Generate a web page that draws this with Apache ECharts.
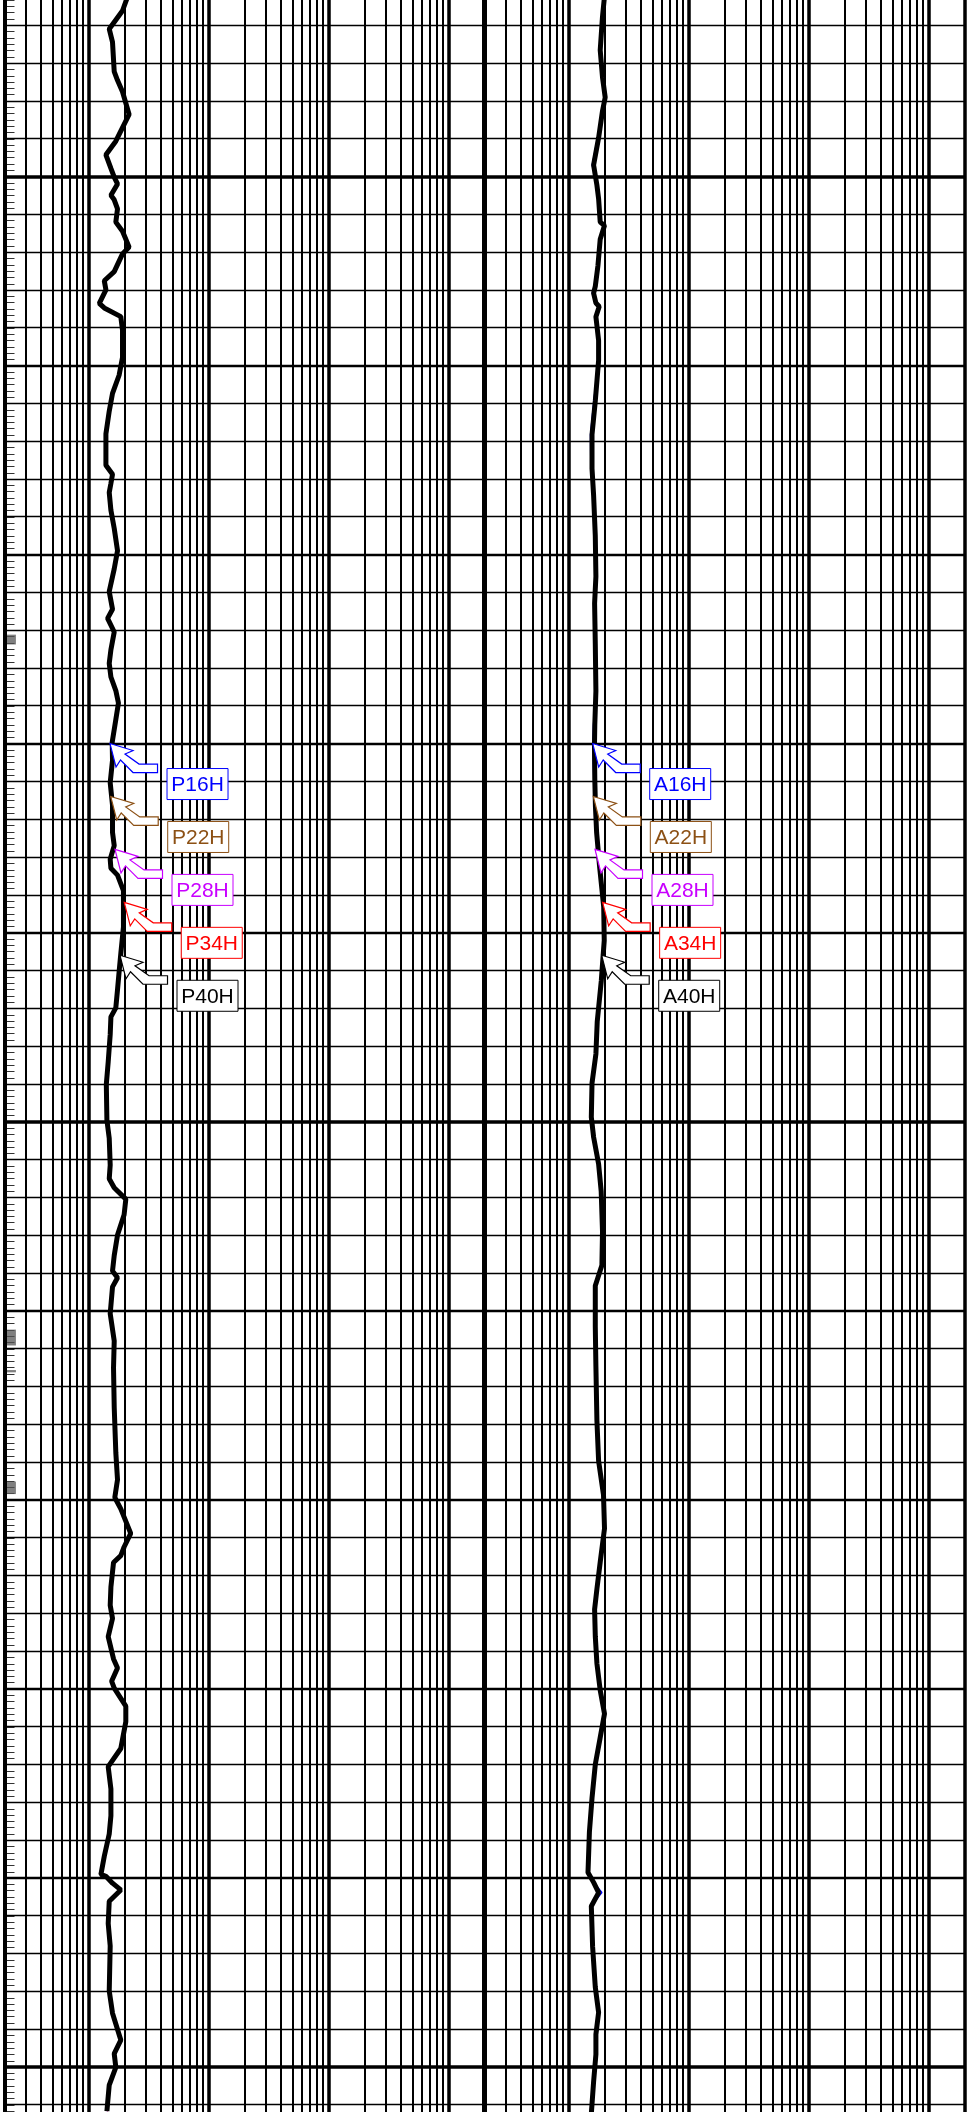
<!DOCTYPE html>
<html>
<head>
<meta charset="utf-8">
<script src="https://cdn.jsdelivr.net/npm/echarts@6/dist/echarts.min.js"></script>
<style>
html, body { margin: 0; padding: 0; background: #fff; }
#chart { width: 979px; height: 2112px; }
</style>
</head>
<body>
<div id="chart"></div>
<script>
// track 1 (P curves): depth / resistivity
var depthP = [
    2245.26, 2245.62, 2246.10, 2246.45, 2247.23, 2247.46, 2247.76, 2248.36, 2248.71, 2249.07,
    2249.43, 2249.79, 2250.02, 2250.20, 2250.50, 2250.62, 2250.86, 2251.21, 2251.45, 2251.87,
    2252.05, 2252.52, 2252.76, 2253.00, 2253.36, 2253.48, 2253.71, 2254.07, 2254.79, 2255.26,
    2255.74, 2256.21, 2256.81, 2257.64, 2257.88, 2258.12, 2258.36, 2258.83, 2259.31, 2259.90,
    2260.38, 2260.98, 2261.45, 2261.69, 2262.05, 2262.52, 2262.88, 2263.24, 2263.60, 2263.93,
    2264.37, 2264.96, 2265.44, 2266.04, 2266.63, 2267.35, 2267.70, 2268.06, 2268.30, 2268.48,
    2268.89, 2269.85, 2270.56, 2271.04, 2271.51, 2271.99, 2272.23, 2272.70, 2273.42, 2274.01,
    2274.96, 2275.44, 2276.15, 2276.51, 2276.75, 2277.05, 2277.46, 2278.00, 2278.54, 2278.95,
    2279.13, 2279.37, 2280.08, 2280.80, 2281.51, 2282.56, 2283.75, 2284.47, 2284.94, 2285.24,
    2285.89, 2286.25, 2286.48, 2286.66, 2287.31, 2287.79, 2288.14, 2288.62, 2289.21, 2289.45,
    2289.80, 2289.98, 2290.46, 2290.87, 2291.58, 2292.06, 2292.65, 2293.36, 2293.84, 2294.43,
    2294.91, 2294.96, 2295.14, 2295.32, 2295.62, 2296.21, 2296.80, 2297.99, 2298.58, 2299.29,
    2299.65, 2300.01, 2300.48, 2301.17
];
var p40 = [
    2.115, 1.925, 1.492, 1.589, 1.642, 1.749, 1.925, 2.185, 1.925, 1.693,
    1.400, 1.541, 1.642, 1.749, 1.541, 1.642, 1.749, 1.693, 1.925, 2.185,
    1.925, 1.642, 1.357, 1.400, 1.233, 1.357, 1.863, 1.925, 1.925, 1.803,
    1.589, 1.492, 1.400, 1.400, 1.589, 1.541, 1.492, 1.541, 1.642, 1.749,
    1.642, 1.492, 1.589, 1.446, 1.642, 1.541, 1.492, 1.541, 1.693, 1.780,
    1.693, 1.580, 1.589, 1.520, 1.589, 1.589, 1.642, 1.520, 1.541, 1.749,
    1.960, 1.960, 1.863, 1.803, 1.749, 1.693, 1.541, 1.520, 1.463, 1.411,
    1.427, 1.492, 1.520, 1.492, 1.642, 2.051, 1.985, 1.749, 1.642, 1.589,
    1.749, 1.589, 1.520, 1.642, 1.620, 1.642, 1.693, 1.749, 1.661, 1.863,
    2.253, 1.985, 1.863, 1.620, 1.541, 1.520, 1.589, 1.463, 1.620, 1.749,
    1.562, 1.642, 2.051, 2.051, 1.863, 1.463, 1.541, 1.541, 1.492, 1.357,
    1.272, 1.400, 1.589, 1.863, 1.492, 1.463, 1.520, 1.492, 1.589, 1.863,
    1.642, 1.693, 1.492, 1.427
];
var p34 = [
    2.140, 1.925, 1.492, 1.600, 1.660, 1.770, 1.950, 2.220, 1.925, 1.693,
    1.400, 1.541, 1.660, 1.770, 1.541, 1.642, 1.770, 1.693, 1.950, 2.210,
    1.925, 1.642, 1.357, 1.400, 1.250, 1.357, 1.890, 1.950, 1.950, 1.803,
    1.589, 1.492, 1.420, 1.400, 1.600, 1.541, 1.492, 1.560, 1.660, 1.770,
    1.642, 1.492, 1.600, 1.446, 1.660, 1.541, 1.492, 1.541, 1.710, 1.780,
    1.693, 1.580, 1.589, 1.520, 1.600, 1.589, 1.642, 1.520, 1.541, 1.770,
    1.990, 1.960, 1.880, 1.803, 1.749, 1.693, 1.541, 1.520, 1.480, 1.411,
    1.427, 1.500, 1.520, 1.492, 1.660, 2.080, 1.985, 1.749, 1.642, 1.589,
    1.770, 1.589, 1.520, 1.660, 1.620, 1.642, 1.710, 1.770, 1.661, 1.890,
    2.290, 1.985, 1.863, 1.620, 1.541, 1.520, 1.600, 1.463, 1.640, 1.770,
    1.562, 1.660, 2.080, 2.070, 1.863, 1.463, 1.541, 1.560, 1.492, 1.357,
    1.272, 1.400, 1.600, 1.890, 1.492, 1.463, 1.530, 1.492, 1.600, 1.890,
    1.642, 1.710, 1.492, 1.440
];

// track 2 (A curves)
var depthA = [
    2245.24, 2245.77, 2246.66, 2247.38, 2247.91, 2248.27, 2248.98, 2249.70, 2250.23, 2250.59,
    2251.21, 2251.30, 2251.66, 2252.37, 2252.91, 2253.09, 2253.35, 2253.44, 2253.71, 2254.34,
    2254.87, 2255.94, 2256.83, 2257.73, 2258.44, 2259.51, 2260.58, 2261.29, 2262.36, 2263.61,
    2264.51, 2265.04, 2265.93, 2266.65, 2267.36, 2268.25, 2269.32, 2270.21, 2271.28, 2272.35,
    2273.21, 2273.98, 2274.88, 2275.41, 2276.12, 2276.84, 2277.91, 2278.80, 2279.34, 2280.41,
    2281.48, 2282.90, 2283.97, 2284.87, 2285.76, 2286.65, 2287.36, 2287.90, 2288.61, 2289.33,
    2290.04, 2290.66, 2291.29, 2292.00, 2292.89, 2293.79, 2294.86, 2295.12, 2295.39, 2295.75,
    2296.82, 2297.89, 2298.56, 2299.14, 2299.67, 2300.39, 2301.24
];
var a40 = [
    2.000, 1.925, 1.842, 1.925, 2.027, 1.925, 1.786, 1.623, 1.729, 1.786,
    1.842, 2.000, 1.842, 1.762, 1.676, 1.623, 1.696, 1.807, 1.696, 1.786,
    1.786, 1.676, 1.574, 1.574, 1.623, 1.676, 1.696, 1.654, 1.676, 1.696,
    1.660, 1.650, 1.660, 1.680, 1.720, 1.820, 1.970, 1.990, 1.880, 1.740,
    1.696, 1.574, 1.553, 1.623, 1.786, 1.877, 1.925, 1.903, 1.676, 1.676,
    1.696, 1.729, 1.786, 1.962, 2.000, 1.842, 1.729, 1.654, 1.676, 1.729,
    1.842, 2.000, 1.842, 1.676, 1.574, 1.497, 1.457, 1.623, 1.786, 1.553,
    1.592, 1.676, 1.786, 1.696, 1.696, 1.623, 1.553
];
var a16 = [
    2.000, 1.925, 1.820, 1.925, 2.027, 1.925, 1.750, 1.580, 1.729, 1.786,
    1.842, 2.000, 1.842, 1.762, 1.640, 1.580, 1.696, 1.807, 1.696, 1.786,
    1.786, 1.630, 1.530, 1.540, 1.623, 1.676, 1.696, 1.654, 1.676, 1.696,
    1.620, 1.600, 1.630, 1.660, 1.700, 1.800, 1.950, 1.990, 1.880, 1.720,
    1.696, 1.574, 1.520, 1.590, 1.786, 1.877, 1.925, 1.903, 1.676, 1.676,
    1.696, 1.729, 1.786, 1.962, 2.000, 1.842, 1.729, 1.640, 1.676, 1.729,
    1.842, 2.000, 1.842, 1.676, 1.550, 1.470, 1.440, 1.623, 1.900, 1.540,
    1.570, 1.676, 1.786, 1.696, 1.696, 1.600, 1.520
];

// annotation arrows: tip depth and value
var labelsP = ['P16H', 'P22H', 'P28H', 'P34H', 'P40H'];
var labelsA = ['A16H', 'A22H', 'A28H', 'A34H', 'A40H'];
var tipDepth = [2265.0, 2266.4, 2267.8, 2269.2, 2270.6];
var tipP = [1.515, 1.535, 1.667, 1.99, 1.835];
var tipA = [1.595, 1.614, 1.667, 1.93, 1.896];
var colors = ['#0000ff', '#8c5014', '#c800ff', '#ff0000', '#000000'];

// dense depth-tick zones on the left edge [top, bottom]
var denseTicks = [[2262.12, 2262.38], [2280.50, 2280.92], [2281.57, 2281.63], [2284.52, 2284.85]];

// log grid
var decadeVals = [1, 10, 100, 1000];
var mantissas = [2, 3, 4, 5, 6, 7, 8, 9];

var X_MIN = 0.2, X_MAX = 2000;
var D_TOP = 2245.335, D_BOTTOM = 2301.193;

function _map(arr, fn) {
    var out = [];
    for (var i = 0; i < arr.length; i++) out.push(fn(arr[i], i));
    return out;
}
function pairs(vals, depths) {
    return _map(depths, function (d, i) { return [vals[i], d]; });
}
function ls(w) {
    return { color: '#000', width: w, type: 'solid', opacity: 1 };
}

function gridLines(idx) {
    var data = [];
    for (var k = 0; k < decadeVals.length; k++) {
        var base = decadeVals[k] / 10;
        for (var m = 0; m < mantissas.length; m++) {
            var v = +(base * mantissas[m]).toPrecision(6);
            if (v > X_MIN && v < X_MAX) data.push({ xAxis: v, lineStyle: ls(2) });
        }
        data.push({ xAxis: decadeVals[k], lineStyle: ls(3.5) });
    }
    // one line per metre, heavier every 5 m and every 25 m
    for (var d = Math.ceil(D_TOP); d <= D_BOTTOM; d++) {
        var w = d % 25 === 0 ? 3.5 : (d % 5 === 0 ? 2.4 : 1.3);
        data.push({ yAxis: d, lineStyle: ls(w) });
    }
    data.push({ xAxis: X_MAX, lineStyle: ls(idx === 0 ? 5 : 3.5) });
    if (idx === 0) data.push({ xAxis: X_MIN, lineStyle: ls(4) });
    var s = {
        type: 'line',
        xAxisIndex: idx,
        yAxisIndex: idx,
        data: [],
        silent: true,
        z: 1,
        markLine: {
            silent: true,
            animation: false,
            symbol: ['none', 'none'],
            label: { show: false },
            emphasis: { disabled: true },
            data: data
        }
    };
    if (idx === 0) {
        s.markArea = {
            silent: true,
            animation: false,
            itemStyle: { color: '#555', opacity: 0.75 },
            label: { show: false },
            emphasis: { disabled: true },
            data: _map(denseTicks, function (z) {
                return [{ xAxis: 0.206, yAxis: z[0] }, { xAxis: 0.249, yAxis: z[1] }];
            })
        };
    }
    return s;
}

function curve(idx, vals, depths, color, width, z) {
    return {
        type: 'line',
        xAxisIndex: idx,
        yAxisIndex: idx,
        data: pairs(vals, depths),
        showSymbol: false,
        symbol: 'none',
        silent: true,
        z: z,
        lineStyle: { color: color, width: width },
        emphasis: { disabled: true }
    };
}

function annotations(idx, tips, labels) {
    return {
        type: 'custom',
        xAxisIndex: idx,
        yAxisIndex: idx,
        clip: false,
        silent: true,
        z: 10,
        data: _map(tipDepth, function (d, i) { return [tips[i], d, i]; }),
        renderItem: function (params, api) {
            var p = api.coord([api.value(0), api.value(1)]);
            var c = colors[api.value(2)];
            var x = p[0], y = p[1];
            var shape = [[0, 0], [23, 7], [15, 10.5], [29, 20.5], [47.5, 20.5],
                         [47.5, 29], [23, 29], [10.5, 16.5], [6, 23.5]];
            var pts = _map(shape, function (s) { return [x + s[0], y + s[1]]; });
            return {
                type: 'group',
                children: [
                    { type: 'polygon', shape: { points: pts },
                      style: { fill: '#fff', stroke: c, lineWidth: 1.2 } },
                    { type: 'rect', shape: { x: x + 57, y: y + 25, width: 61, height: 31 },
                      style: { fill: '#fff', stroke: c, lineWidth: 1 } },
                    { type: 'text',
                      style: { x: x + 87.5, y: y + 42, text: labels[params.dataIndex], fill: c,
                               font: '21px "Liberation Sans", Arial, sans-serif',
                               align: 'center', verticalAlign: 'middle' } }
                ]
            };
        }
    };
}

var chart = echarts.init(document.getElementById('chart'), null, { renderer: 'canvas' });

function yAxisOf(idx) {
    return {
        type: 'value',
        gridIndex: idx,
        inverse: true,
        min: D_TOP,
        max: D_BOTTOM,
        axisLabel: { show: false },
        splitLine: { show: false },
        axisLine: { show: false },
        axisTick: { show: false }
    };
}
// depth tick strip on the left edge of track 1
var tickAxis = {
    type: 'value',
    gridIndex: 0,
    inverse: true,
    min: D_TOP,
    max: D_BOTTOM,
    interval: 1,
    position: 'left',
    axisLabel: { show: false },
    splitLine: { show: false },
    axisLine: { show: false },
    axisTick: { show: true, inside: true, length: 10, lineStyle: { color: '#333', width: 1 } },
    minorTick: { show: true, splitNumber: 6, length: 10, lineStyle: { color: '#333', width: 1 } }
};
function xAxisOf(idx) {
    return {
        type: 'log',
        logBase: 10,
        gridIndex: idx,
        min: X_MIN,
        max: X_MAX,
        show: false
    };
}

chart.setOption({
    animation: false,
    backgroundColor: '#fff',
    grid: [
        { left: 4.5, top: 0, width: 480, height: 2112 },
        { left: 484.5, top: 0, width: 480, height: 2112 }
    ],
    xAxis: [xAxisOf(0), xAxisOf(1)],
    yAxis: [yAxisOf(0), yAxisOf(1), tickAxis],
    series: [
        gridLines(0),
        gridLines(1),
        curve(0, p40, depthP, colors[0], 1.5, 3),
        curve(0, p40, depthP, colors[1], 1.5, 3),
        curve(0, p40, depthP, colors[2], 1.5, 3),
        curve(0, p34, depthP, colors[3], 1.5, 3),
        curve(0, p40, depthP, colors[4], 5, 4),
        curve(1, a16, depthA, colors[0], 1.5, 3),
        curve(1, a40, depthA, colors[1], 1.5, 3),
        curve(1, a40, depthA, colors[2], 1.5, 3),
        curve(1, a40, depthA, colors[3], 1.5, 3),
        curve(1, a40, depthA, colors[4], 5, 4),
        annotations(0, tipP, labelsP),
        annotations(1, tipA, labelsA)
    ]
});
</script>
</body>
</html>
